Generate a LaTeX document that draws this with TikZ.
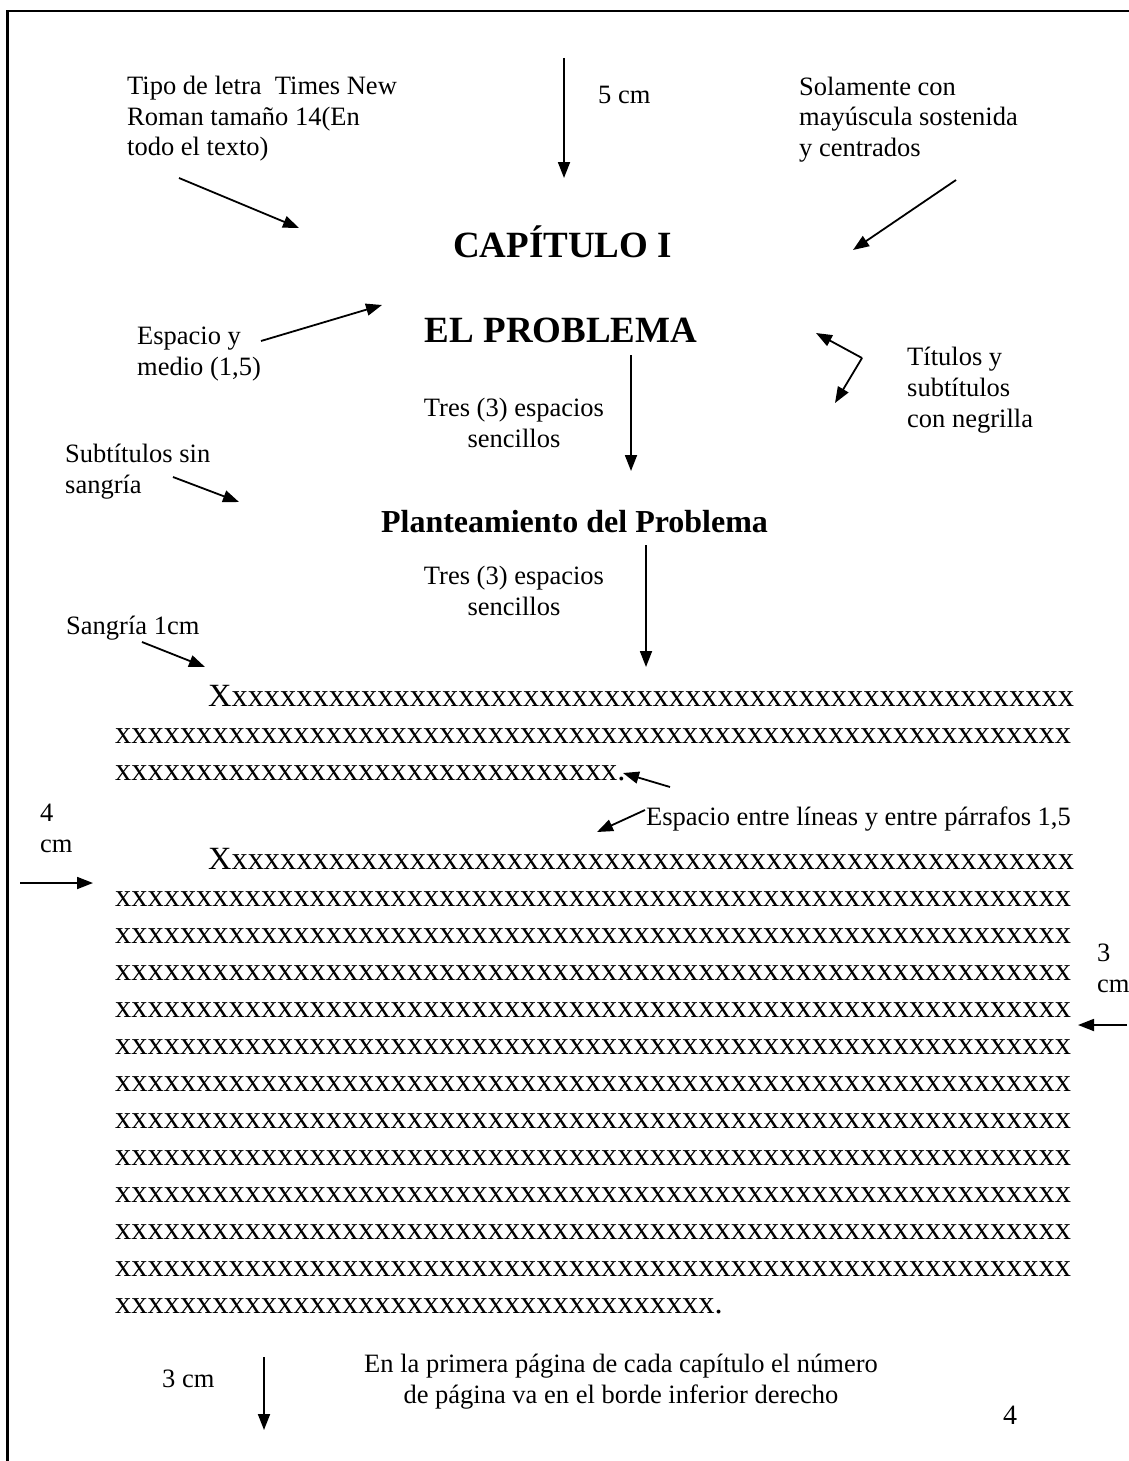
\documentclass[tikz,border=0pt]{standalone}
\usepackage{fontspec}
\setmainfont{Liberation Serif}
\usetikzlibrary{arrows.meta}
\newcount\xcnt
\newcommand\xrep[1]{\xcnt=0\relax\loop\ifnum\xcnt<#1\relax x\advance\xcnt by 1\relax\repeat}
\begin{document}
\begin{tikzpicture}[x=1pt,y=-1pt,
  lbl/.style={inner sep=0pt, font=\fontsize{26.5}{31}\selectfont, align=left, anchor=base west},
  lblc/.style={lbl, align=center, anchor=base},
  ttl/.style={inner sep=0pt, font=\bfseries\fontsize{37}{44}\selectfont, anchor=base},
  subt/.style={inner sep=0pt, font=\bfseries\fontsize{32}{38}\selectfont, anchor=base},
  body/.style={inner sep=0pt, font=\fontsize{32.4}{37}\selectfont, anchor=base west},
  arr/.style={line width=1.8pt, -{Triangle[length=16pt,width=12pt]}},
  pageedge/.style={line width=2.5pt}]
\fill[white] (0,0) rectangle (1129,1461);
\useasboundingbox (0,0) rectangle (1129,1461);
\draw[pageedge] (7.5,1461) -- (7.5,11) -- (1129,11);

% labels (multi-line nodes: base = baseline of the last line)
\node[lbl] (tipo) at (127,156) {Tipo de letra~ Times New\\Roman tamaño 14(En\\todo el texto)};
\node[lbl] (cinco) at (598,104) {5 cm};
\node[lbl] (sola) at (799,157) {Solamente con\\mayúscula sostenida\\y centrados};
\node[ttl] (cap) at (562.5,257) {CAPÍTULO I};
\node[ttl] (elp) at (561,342) {EL PROBLEMA};
\node[lbl] (esp) at (137,375) {Espacio y\\medio (1,5)};
\node[lblc] (tres1) at (514,447) {Tres (3) espacios\\sencillos};
\node[lbl] (titu) at (907,427) {Títulos y\\subtítulos\\con negrilla};
\node[lbl] (subs) at (65,493) {Subtítulos sin\\sangría};
\node[subt] (plan) at (574.5,532) {Planteamiento del Problema};
\node[lblc] (tres2) at (514,615) {Tres (3) espacios\\sencillos};
\node[lbl] (sang) at (66,634) {Sangría 1cm};
\node[lbl] (espl) at (646,825) {Espacio entre líneas y entre párrafos 1,5};
\node[lbl] (cuatro) at (40,852) {4\\cm};
\node[lbl] (tresr) at (1097,992) {3\\cm};
\node[lbl] (tcm) at (162,1387) {3 cm};
\node[lblc] (pie) at (621,1403) {En la primera página de cada capítulo el número\\de página va en el borde inferior derecho};
\node[inner sep=0pt, font=\fontsize{28}{30}\selectfont, anchor=base] (num) at (1010,1424) {4};

% body text
\node[body] (p1a) at (208,706) {X\xrep{52}};
\node[body] (p1b) at (115,743) {\xrep{59}};
\node[body] (p1c) at (115,780) {\xrep{31}.};
\node[body] (p2a) at (208,869) {X\xrep{52}};
\foreach \i in {1,...,11} {\node[body] (p2l\i) at (115,{869+37*\i}) {\xrep{59}};}
\node[body] (p2z) at (115,1313) {\xrep{37}.};

% arrow ends
\coordinate (a1s) at (564,58);   \coordinate (a1e) at (564,178);
\coordinate (a2s) at (179,178);  \coordinate (a2e) at (299,228);
\coordinate (a3s) at (956,180);  \coordinate (a3e) at (853,250);
\coordinate (a4s) at (261,341);  \coordinate (a4e) at (382,305);
\coordinate (a5s) at (631,355);  \coordinate (a5e) at (631,471);
\coordinate (a6v) at (862,358);  \coordinate (a6a) at (816,333); \coordinate (a6b) at (835,403);
\coordinate (a7s) at (173,477);  \coordinate (a7e) at (239,502);
\coordinate (a8s) at (646,545);  \coordinate (a8e) at (646,667);
\coordinate (a9s) at (142,642);  \coordinate (a9e) at (205,667);
\coordinate (a10s) at (670,787); \coordinate (a10e) at (623,773);
\coordinate (a11s) at (645,810); \coordinate (a11e) at (597,832);
\coordinate (a12s) at (20,883);  \coordinate (a12e) at (93,883);
\coordinate (a13s) at (1127,1025); \coordinate (a13e) at (1078,1025);
\coordinate (a14s) at (264,1357); \coordinate (a14e) at (264,1430);

\draw[arr] (a1s) -- (a1e);
\draw[arr] (a2s) -- (a2e);
\draw[arr] (a3s) -- (a3e);
\draw[arr] (a4s) -- (a4e);
\draw[arr] (a5s) -- (a5e);
\draw[arr] (a6v) -- (a6a);
\draw[arr] (a6v) -- (a6b);
\draw[arr] (a7s) -- (a7e);
\draw[arr] (a8s) -- (a8e);
\draw[arr] (a9s) -- (a9e);
\draw[arr] (a10s) -- (a10e);
\draw[arr] (a11s) -- (a11e);
\draw[arr] (a12s) -- (a12e);
\draw[arr] (a13s) -- (a13e);
\draw[arr] (a14s) -- (a14e);
\end{tikzpicture}
\end{document}
